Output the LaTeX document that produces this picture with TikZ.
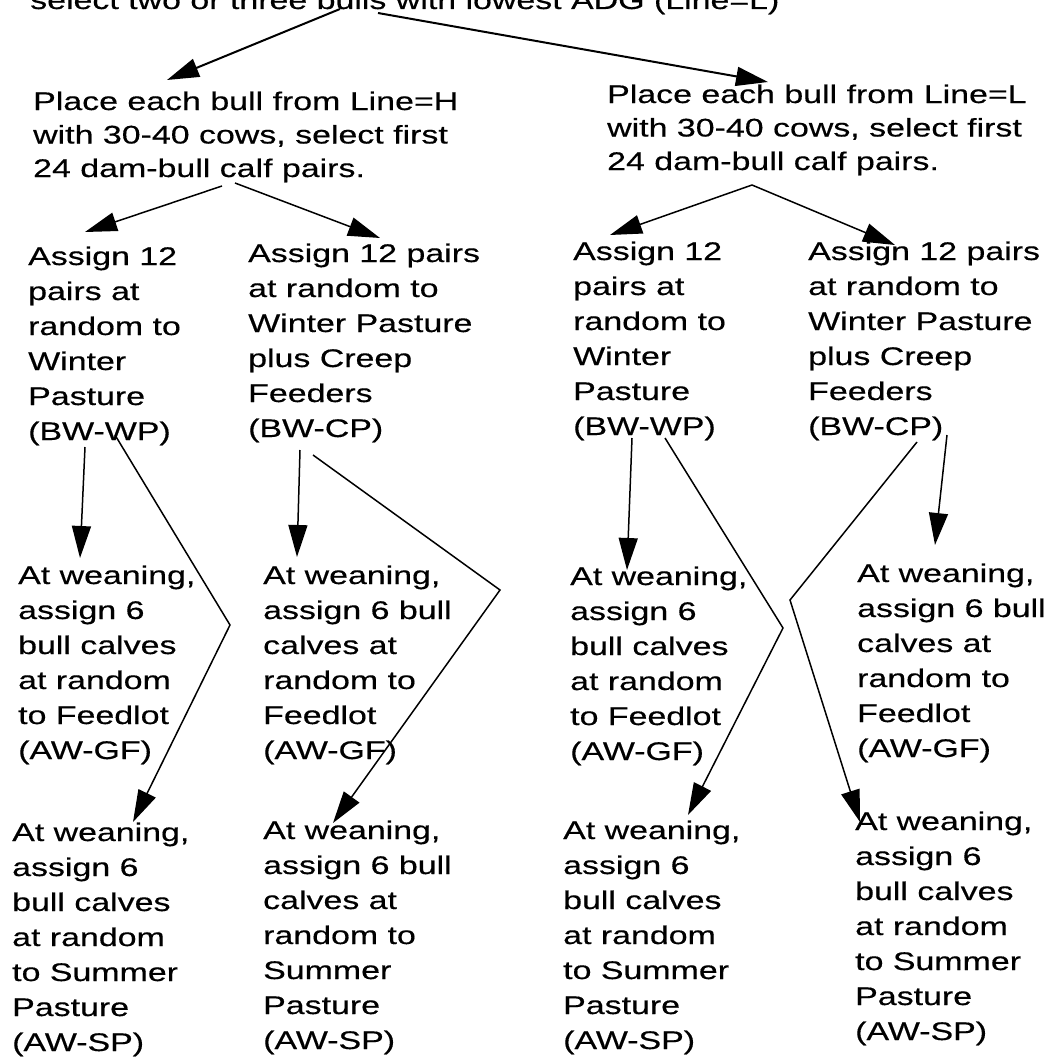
\documentclass[tikz,border=0pt]{standalone}
\usepackage{fontspec}
\setmainfont{Liberation Sans}[FakeStretch=1.33, FakeBold=0.4]
\usetikzlibrary{arrows.meta}

\begin{document}
\begin{tikzpicture}[x=1pt, y=-1pt, >={Triangle[length=32pt,width=19pt]},
  stage/.style={anchor=base west, align=left, inner sep=0pt,
    font=\fontsize{25.5pt}{35pt}\selectfont},
  sire/.style={stage, font=\fontsize{25.5pt}{33.5pt}\selectfont},
  link/.style={->, line width=1.5pt}]
  \useasboundingbox (0,0) rectangle (1057,1057);

  % selection of sires (nodes sit on the baseline of their last line)
  \node[sire] (sel) at (30,9) {select two or three bulls with lowest ADG (Line=L)};
  \node[sire] (lineH) at (33,177) {Place each bull from Line=H\\with 30-40 cows, select first\\24 dam-bull calf pairs.};
  \node[sire] (lineL) at (607,170) {Place each bull from Line=L\\with 30-40 cows, select first\\24 dam-bull calf pairs.};

  % before weaning
  \node[stage] (wpH) at (28,440) {Assign 12\\pairs at\\random to\\Winter\\Pasture\\(BW-WP)};
  \node[stage] (cpH) at (248,437) {Assign 12 pairs\\at random to\\Winter Pasture\\plus Creep\\Feeders\\(BW-CP)};
  \node[stage] (wpL) at (573,435) {Assign 12\\pairs at\\random to\\Winter\\Pasture\\(BW-WP)};
  \node[stage] (cpL) at (808,435) {Assign 12 pairs\\at random to\\Winter Pasture\\plus Creep\\Feeders\\(BW-CP)};

  % after weaning, feedlot
  \node[stage] (gfH1) at (18,759) {At weaning,\\assign 6\\bull calves\\at random\\to Feedlot\\(AW-GF)};
  \node[stage] (gfH2) at (263,759) {At weaning,\\assign 6 bull\\calves at\\random to\\Feedlot\\(AW-GF)};
  \node[stage] (gfL1) at (570,760) {At weaning,\\assign 6\\bull calves\\at random\\to Feedlot\\(AW-GF)};
  \node[stage] (gfL2) at (857,757) {At weaning,\\assign 6 bull\\calves at\\random to\\Feedlot\\(AW-GF)};

  % after weaning, summer pasture
  \node[stage] (spH1) at (12,1051) {At weaning,\\assign 6\\bull calves\\at random\\to Summer\\Pasture\\(AW-SP)};
  \node[stage] (spH2) at (263,1049) {At weaning,\\assign 6 bull\\calves at\\random to\\Summer\\Pasture\\(AW-SP)};
  \node[stage] (spL1) at (563,1049) {At weaning,\\assign 6\\bull calves\\at random\\to Summer\\Pasture\\(AW-SP)};
  \node[stage] (spL2) at (855,1040) {At weaning,\\assign 6\\bull calves\\at random\\to Summer\\Pasture\\(AW-SP)};

  % bends of the crossing lines
  \coordinate (bendH1) at (230,625);
  \coordinate (bendH2) at (500,590);
  \coordinate (bendL1) at (783,628);
  \coordinate (bendL2) at (790,600);

  \draw[link, line width=2pt] ([shift={(310,0)}]sel.base west) -- ([shift={(134,-97)}]lineH.base west);
  \draw[link, line width=2pt] ([shift={(348,4)}]sel.base west) -- ([shift={(161,-88)}]lineL.base west);

  \draw[link] ([shift={(189,9)}]lineH.base west) -- ([shift={(57,-208)}]wpH.base west);
  \draw[link] ([shift={(202,6)}]lineH.base west) -- ([shift={(132,-199)}]cpH.base west);
  \draw[link] ([shift={(145,15)}]lineL.base west) -- ([shift={(37,-200)}]wpL.base west);
  \draw[link] ([shift={(145,15)}]lineL.base west) -- ([shift={(87,-190)}]cpL.base west);

  \draw[link] ([shift={(57,7)}]wpH.base west) -- ([shift={(62,-201)}]gfH1.base west);
  \draw[link] ([shift={(87,-5)}]wpH.base west) -- (bendH1) -- ([shift={(121,-229)}]spH1.base west);
  \draw[link] ([shift={(52,13)}]cpH.base west) -- ([shift={(34,-202)}]gfH2.base west);
  \draw[link] ([shift={(65,18)}]cpH.base west) -- (bendH2) -- ([shift={(70,-226)}]spH2.base west);
  \draw[link] ([shift={(59,3)}]wpL.base west) -- ([shift={(57,-190)}]gfL1.base west);
  \draw[link] ([shift={(92,3)}]wpL.base west) -- (bendL1) -- ([shift={(125,-234)}]spL1.base west);
  \draw[link] ([shift={(139,0)}]cpL.base west) -- ([shift={(78,-212)}]gfL2.base west);
  \draw[link] ([shift={(109,7)}]cpL.base west) -- (bendL2) -- ([shift={(5,-218)}]spL2.base west);
\end{tikzpicture}
\end{document}
